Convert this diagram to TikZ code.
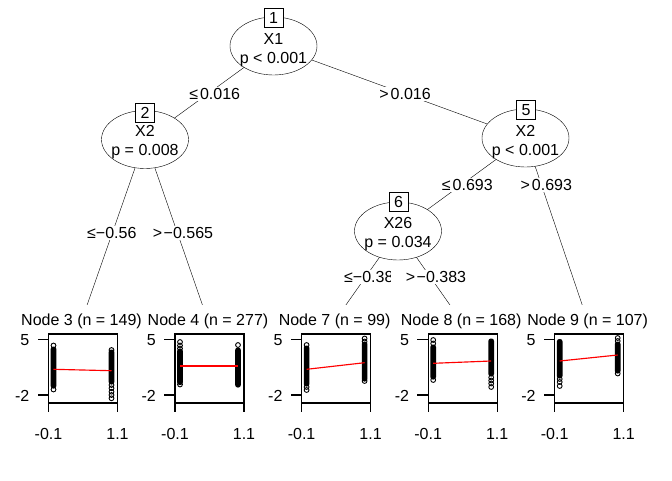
\documentclass[tikz,border=0pt]{standalone}
\usepackage{fontspec}
\setmainfont{Liberation Sans}
\usetikzlibrary{shapes.geometric}
\pgfdeclarelayer{bg}
\pgfdeclarelayer{edges}
\pgfsetlayers{bg,edges,main}
% leaf panel: #1 = left x of box, #2 = id
\newcommand\leafpanel[2]{%
  \draw[axis] (#1,334) rectangle ++(69,69);
  \draw[axis] (#1,403) -- ++(0,9) (#1+69,403) -- ++(0,9);
  \draw[axis] (#1,339.7) -- ++(-11,0) (#1,395) -- ++(-11,0);
  \node[ticklab,anchor=east] (ya#2) at (#1-19,340) {5};
  \node[ticklab,anchor=east] (yb#2) at (#1-19,395.5) {-2};
  \node[ticklab] (xa#2) at (#1,433.5) {-0.1};
  \node[ticklab] (xb#2) at (#1+69,433.5) {1.1};
}
% bar of dense points: #1 = x, #2 = top y, #3 = bottom y
\newcommand\pbar[3]{%
  \fill[black,rounded corners=2.4pt] (#1-2.8,#2-2.5) rectangle (#1+2.8,#3+2.5);
}
\newcommand\pts[2]{%
  \foreach \yy in {#2} {\draw[pt] (#1,\yy) circle[radius=2.4pt];}
}
\begin{document}
\begin{tikzpicture}[x=1pt,y=-1pt,
  font=\fontsize{16}{19}\selectfont,
  line width=1.15pt,
  inner/.style={ellipse, draw, fill=white, minimum width=87pt, minimum height=58pt, inner sep=0pt},
  itext/.style={inner sep=0pt, align=center},
  idbox/.style={rectangle, draw, fill=white, minimum width=19pt, minimum height=19pt, inner sep=0pt},
  elabel/.style={fill=white, inner xsep=1pt, inner ysep=1pt},
  hdr/.style={fill=white, inner xsep=1pt, inner ysep=0pt, minimum height=32pt},
  ticklab/.style={inner sep=0pt},
  axis/.style={line width=1.15pt},
  pt/.style={line width=0.9pt},
  fit/.style={red, line width=1.15pt}]
\begin{pgfonlayer}{bg}
\fill[white] (0,0) rectangle (672,480);
\end{pgfonlayer}
\useasboundingbox (0,0) rectangle (672,480);

% inner nodes
\node[inner] (n1) at (273.5,46) {};
\node[itext] (t1) at (273.5,50) {X1\\p < 0.001};
\node[idbox] (b1) at (273.5,17.5) {1};
\node[inner] (n2) at (145,139.5) {};
\node[itext] (t2) at (145,142.5) {X2\\p = 0.008};
\node[idbox] (b2) at (145,112.5) {2};
\node[inner] (n5) at (525.5,138) {};
\node[itext] (t5) at (525.5,142) {X2\\p < 0.001};
\node[idbox] (b5) at (526,110) {5};
\node[inner] (n6) at (398,231) {};
\node[itext] (t6) at (398,234) {X26\\p = 0.034};
\node[idbox] (b6) at (398.5,202) {6};

% leaf headers
\node[hdr] (h3) at (81.5,321) {Node 3 (n = 149)};
\node[hdr] (h4) at (208,321) {Node 4 (n = 277)};
\node[hdr] (h7) at (334.6,321) {Node 7 (n = 99)};
\node[hdr] (h8) at (461.2,321) {Node 8 (n = 168)};
\node[hdr] (h9) at (587.7,321) {Node 9 (n = 107)};

% edges
\begin{pgfonlayer}{edges}
\draw (n1.center) -- (n2.center);
\draw (n1.center) -- (n5.center);
\draw (n2.center) -- (h3.center);
\draw (n2.center) -- (h4.center);
\draw (n5.center) -- (n6.center);
\draw (n5.center) -- (h9.center);
\draw (n6.center) -- (h7.center);
\draw (n6.center) -- (h8.center);
\end{pgfonlayer}

% edge labels
\node[elabel] (l12) at (214.7,94) {≤\kern2pt0.016};
\node[elabel] (l15) at (405,94) {>\kern2pt0.016};
\node[elabel,anchor=west,inner xsep=0pt] (l23) at (87,233) {≤−0.565};
\node[elabel,minimum width=93pt] (l24) at (183,233) {>\kern1.5pt−0.565};
\node[elabel] (l56) at (467.3,185) {≤\kern2pt0.693};
\node[elabel] (l59) at (546.3,185) {>\kern2pt0.693};
\node[elabel,anchor=west,inner xsep=0pt] (l67) at (344,277) {≤−0.383};
\node[elabel,minimum width=91pt] (l68) at (436,277) {>\kern1.5pt−0.383};

% leaf panels
\leafpanel{48.5}{3}
\leafpanel{175}{4}
\leafpanel{301.6}{7}
\leafpanel{428.2}{8}
\leafpanel{554.7}{9}

% leaf 3 data
\pbar{53.5}{349}{386}
\pts{53.5}{345.5,389.5}
\pbar{111.5}{352}{382}
\pts{111.5}{350,385,388.3,391.7,395,398.3}
\draw[fit] (53.5,369.3) -- (111.5,370.7);

% leaf 4 data
\pbar{180}{351}{382.5}
\pts{180}{342,345.5,348.5,384.5}
\pbar{238}{350}{385}
\pts{238}{345}
\draw[fit] (180,366) -- (238,366);

% leaf 7 data
\pbar{306.6}{348}{384}
\pts{306.6}{345,387,390}
\pbar{364.6}{344}{379}
\pts{364.6}{338.5,341.5,381}
\draw[fit] (306.6,369.3) -- (364.6,362.7);

% leaf 8 data
\pbar{433.2}{347}{377}
\pts{433.2}{340,343.5,380}
\pbar{491.2}{341}{374}
\pts{491.2}{377.5,380.5,383.5,387}
\draw[fit] (433.2,363.3) -- (491.2,361);

% leaf 9 data
\pbar{559.7}{341.5}{376}
\pts{559.7}{379,382,386}
\pbar{617.7}{344}{371}
\pts{617.7}{338,341,373.5}
\draw[fit] (559.7,361) -- (617.7,355);
\end{tikzpicture}
\end{document}
